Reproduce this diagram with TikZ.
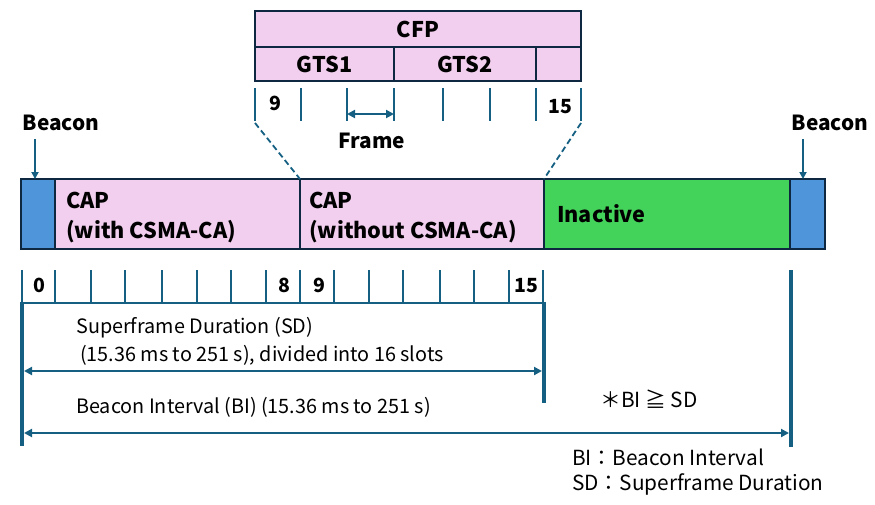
\documentclass[tikz,border=0pt]{standalone}
\usepackage{fontspec}
\setmainfont{Noto Sans CJK JP}
\usetikzlibrary{arrows.meta}
\definecolor{edgecol}{HTML}{0E2841}
\definecolor{linecol}{HTML}{156082}
\definecolor{pinkfill}{HTML}{F2CEEF}
\definecolor{bluefill}{HTML}{4E95D9}
\definecolor{greenfill}{HTML}{44D35A}
\begin{document}
\begin{tikzpicture}[x=1pt,y=-1pt,
  seg/.style={draw=edgecol,line width=2.4pt,anchor=north west,inner sep=0pt,outer sep=0pt,minimum height=70pt},
  topseg/.style={draw=edgecol,line width=2.4pt,anchor=north west,inner sep=0pt,outer sep=0pt},
  blab/.style={font=\bfseries\fontsize{21.6}{30}\selectfont,anchor=base west,inner sep=0pt,align=left},
  tlab/.style={font=\bfseries\fontsize{20.8}{24}\selectfont,anchor=base,inner sep=0pt},
  glab/.style={font=\bfseries\fontsize{21.6}{24}\selectfont,anchor=center,inner sep=0pt},
  dlab/.style={font=\bfseries\fontsize{19.5}{22}\selectfont,anchor=base,inner sep=0pt},
  nlab/.style={font=\fontsize{19.8}{24}\selectfont,anchor=base west,inner sep=0pt},
  leglab/.style={font=\fontsize{20.8}{24}\selectfont,anchor=base west,inner sep=0pt},
  tickln/.style={draw=linecol,line width=1.8pt},
  thickln/.style={draw=linecol,line width=4pt},
  darr/.style={draw=linecol,line width=2pt,{Triangle[length=8pt,width=8pt]}-{Triangle[length=8pt,width=8pt]}},
  sarr/.style={draw=linecol,line width=2pt,-{Triangle[length=7pt,width=7pt]}},
  dashln/.style={draw=linecol,line width=1.8pt,dash pattern=on 6pt off 3.5pt}]
\useasboundingbox (0,0) rectangle (875,504);

% main bar
\node[seg,fill=bluefill,minimum width=34pt] (b1) at (21,179) {};
\node[seg,fill=pinkfill,minimum width=245pt] (cap1) at (55,179) {};
\node[seg,fill=pinkfill,minimum width=244pt] (cap2) at (300,179) {};
\node[seg,fill=greenfill,minimum width=246pt] (inact) at (544,179) {};
\node[seg,fill=bluefill,minimum width=35pt] (b2) at (790,179) {};

\node[blab] (cap1t) at (66,208) {CAP};
\node[blab] (cap1u) at (66,238) {(with CSMA-CA)};
\node[blab] (cap2t) at (309,208) {CAP};
\node[blab] (cap2u) at (309,238) {(without CSMA-CA)};
\node[blab] (inactt) at (557,222) {Inactive};

% beacon labels
\node[tlab] (bl1) at (61,130) {Beacon};
\node[tlab] (bl2) at (830,130) {Beacon};
\coordinate (ba1) at (35,139);
\coordinate (ba2) at (803,139);
\draw[sarr] (ba1) -- (ba1 |- b1.north);
\draw[sarr] (ba2) -- (ba2 |- b2.north);

% CFP detail
\node[topseg,fill=pinkfill,minimum width=326pt,minimum height=36pt] (cfp) at (255,11) {};
\node[glab] (cfpt) at (cfp.center) {CFP};
\node[topseg,fill=pinkfill,minimum width=139pt,minimum height=34pt] (gts1) at (255,47) {};
\node[topseg,fill=pinkfill,minimum width=142pt,minimum height=34pt] (gts2) at (394,47) {};
\node[topseg,fill=pinkfill,minimum width=45pt,minimum height=34pt] (gts3) at (536,47) {};
\node[glab] (g1t) at (gts1.center) {GTS1};
\node[glab] (g2t) at (gts2.center) {GTS2};

\foreach \x in {255,301,347,394,443,490,536,581} \draw[tickln] (\x,88) -- (\x,121);
\node[dlab] (t9) at (275,110) {9};
\node[dlab] (t15) at (560,113) {15};
\coordinate (fa) at (347,114);
\coordinate (fb) at (394,114);
\draw[darr] (fa) -- (fb);
\node[tlab] (frame) at (372,148) {Frame};

\coordinate (dl) at (255,123);
\coordinate (dr) at (581,123);
\draw[dashln] (dl) -- (cap2.north west);
\draw[dashln] (dr) -- (inact.north west);

% slot ticks
\foreach \x in {22,55,91,125,162,197,231,266,300,334,369,403,440,474,509,543} \draw[tickln] (\x,270) -- (\x,303);
\draw[tickln] (22,303) -- (544,303);
\node[dlab] (s0) at (39,292) {0};
\node[dlab] (s8) at (284,292) {8};
\node[dlab] (s9) at (319,292) {9};
\node[dlab] (s15) at (526,292) {15};

% thick bounds
\coordinate (l1) at (22,302);
\coordinate (l2) at (22,446);
\coordinate (m1) at (544,302);
\coordinate (m2) at (544,403);
\coordinate (r1) at (791,270);
\coordinate (r2) at (791,447);
\draw[thickln] (l1) -- (l2);
\draw[thickln] (m1) -- (m2);
\draw[thickln] (r1) -- (r2);

\draw[darr] (24,371) -- (542,371);
\draw[darr] (24,433) -- (789,433);

\node[nlab] (sd1) at (76,333) {Superframe Duration (SD)};
\node[nlab] (sd2) at (80,361) {(15.36 ms to 251 s), divided into 16 slots};
\node[nlab] (bi1) at (76,413) {Beacon Interval (BI) (15.36 ms to 251 s)};
\node[leglab] (cmp) at (600,407) {＊BI ≧ SD};
\node[leglab] (lg1) at (572,465) {BI：Beacon Interval};
\node[leglab] (lg2) at (572,490) {SD：Superframe Duration};
\end{tikzpicture}
\end{document}
